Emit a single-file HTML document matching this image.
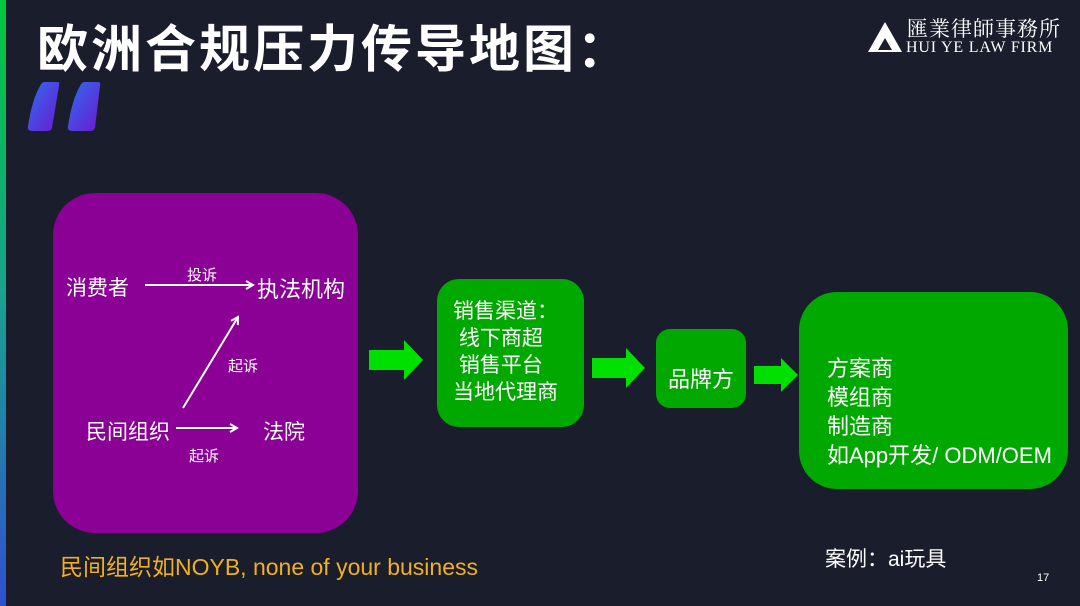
<!DOCTYPE html>
<html><head><meta charset="utf-8"><style>
body{margin:0;width:1080px;height:606px;background:#1a1d2b;overflow:hidden;position:relative;font-family:"Liberation Sans","Noto Sans CJK SC",sans-serif;color:#fff}
.a{position:absolute;white-space:nowrap}
.bar{left:0;top:0;width:6px;height:606px;background:linear-gradient(#00c83c,#1aa090 50%,#3050d0)}
</style></head><body>
<div class="a bar"></div>
<div class="a" style="left:37px;top:20px;font-size:51px;font-weight:bold;line-height:60px;letter-spacing:3px">欧洲合规压力传导地图：</div>
<svg class="a" style="left:0;top:0" width="1080" height="606">
<defs><linearGradient id="q" x1="0" y1="0" x2="1" y2="1"><stop offset="0" stop-color="#2f6cf0"/><stop offset="1" stop-color="#6a1ad0"/></linearGradient>
<marker id="m" markerWidth="10" markerHeight="10" refX="8" refY="5" orient="auto" markerUnits="userSpaceOnUse"><path d="M1,1 L8,5 L1,9" fill="none" stroke="#fff" stroke-width="2"/></marker></defs>
<path d="M44,82 L58,82 Q60,82 59,86 L52,128 Q51,131 47,131 L32,131 Q27,131 28,126 Q32,100 40,86 Q42,82 44,82Z" fill="url(#q)"/>
<path d="M84,82 L98,82 Q101,82 100,86 L95,128 Q94,131 90,131 L72,131 Q67,131 68,126 Q72,100 80,86 Q82,82 84,82Z" fill="url(#q)"/>
<path d="M868,52 L885,22 L902,52 Z M878,50 L885,38 L892,50Z" fill="#fff" fill-rule="evenodd"/>
<rect x="53" y="193" width="305" height="340" rx="42" fill="#8b0095"/>
<rect x="437" y="279" width="147" height="148" rx="22" fill="#00a800"/>
<rect x="656" y="329" width="90" height="79" rx="14" fill="#00a800"/>
<rect x="799" y="292" width="269" height="197" rx="38" fill="#00a800"/>
<path d="M369,350 L404,350 L404,340 L423,360 L404,380 L404,370 L369,370Z" fill="#00e000"/>
<path d="M592,358 L626,358 L626,348 L645,368 L626,388 L626,378 L592,378Z" fill="#00e000"/>
<path d="M754,366 L781,366 L781,358 L798,375 L781,392 L781,384 L754,384Z" fill="#00e000"/>
<g stroke="#fff" stroke-width="2" fill="none" marker-end="url(#m)">
<line x1="145" y1="285" x2="253" y2="285"/>
<line x1="183" y1="408" x2="238" y2="317"/>
<line x1="176" y1="428" x2="237" y2="428"/>
</g>
</svg>
<div class="a" style="left:907px;top:15px;font-size:21px;font-family:'Noto Serif CJK SC',serif;line-height:26px;letter-spacing:1px">匯業律師事務所</div>
<div class="a" style="left:906px;top:39px;font-size:16px;font-family:'Liberation Serif',serif;line-height:18px;letter-spacing:0.8px">HUI YE LAW FIRM</div>
<div class="a" style="left:66px;top:272px;font-size:21px">消费者</div>
<div class="a" style="left:187px;top:264px;font-size:15px">投诉</div>
<div class="a" style="left:257px;top:272px;font-size:22px">执法机构</div>
<div class="a" style="left:228px;top:355px;font-size:15px">起诉</div>
<div class="a" style="left:86px;top:416px;font-size:21px">民间组织</div>
<div class="a" style="left:263px;top:416px;font-size:21px">法院</div>
<div class="a" style="left:189px;top:445px;font-size:15px">起诉</div>
<div class="a" style="left:453px;top:298px;font-size:21px;line-height:27px">销售渠道：<br>&nbsp;线下商超<br>&nbsp;销售平台<br>当地代理商</div>
<div class="a" style="left:668px;top:362px;font-size:22px">品牌方</div>
<div class="a" style="left:827px;top:354px;font-size:22px;line-height:29px">方案商<br>模组商<br>制造商<br>如App开发/ ODM/OEM</div>
<div class="a" style="left:60px;top:548px;font-size:23px;color:#f0b020">民间组织如NOYB, none of your business</div>
<div class="a" style="left:825px;top:543px;font-size:21px">案例：ai玩具</div>
<div class="a" style="left:1037px;top:572px;font-size:11px">17</div>
</body></html>
